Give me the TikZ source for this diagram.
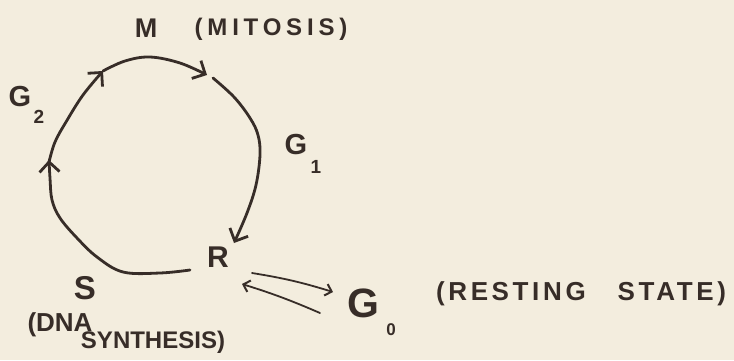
\documentclass[tikz,border=0pt]{standalone}
\usepackage{fontspec}
\setmainfont{Liberation Sans}
\newfontfamily\widefont[LetterSpace=20]{Liberation Sans}
\newfontfamily\midfont[LetterSpace=14]{Liberation Sans}
\usetikzlibrary{arrows.meta}
\definecolor{paper}{RGB}{243,237,222}
\definecolor{ink}{RGB}{55,45,40}
\tikzset{
  cyc/.style={draw=ink, line width=2.8pt, line cap=round, line join=round},
  tip/.style={-{Straight Barb[length=10pt,width=20pt,line width=2.8pt]}},
  thin/.style={draw=ink, line width=1.8pt, line cap=round,
    -{Straight Barb[length=6pt,width=12pt,line width=2pt]}},
  lbl/.style={inner sep=0pt, text=ink, anchor=center},
}
\begin{document}
\begin{tikzpicture}[x=1pt,y=-1pt]
\useasboundingbox (0,0) rectangle (734,360);
\fill[paper] (0,0) rectangle (734,360);

% cell cycle loop (clockwise): S -> G2 -> M -> G1 -> R
\draw[cyc,tip] plot[smooth,tension=0.6] coordinates
  {(190,270) (160,273) (123,272) (97,257) (77,238) (60,218) (52,200) (50,178) (49,160)};
\draw[cyc,tip] plot[smooth,tension=0.6] coordinates
  {(49,162) (55,142) (66,122) (83,95) (103,71)};
\draw[cyc,tip] plot[smooth,tension=0.6] coordinates
  {(103,71) (125,61) (150,57) (180,63) (207,75)};
\draw[cyc,tip] plot[smooth,tension=0.6] coordinates
  {(213,78) (234,97) (250,118) (258,135) (260,155) (256,185) (247,213) (234,243)};

% labels
\node[lbl, font=\bfseries\fontsize{27}{27}\selectfont] (M) at (146,28) {M};
\node[lbl, font=\widefont\bfseries\fontsize{24}{24}\selectfont] (mit) at (271,29) {(MITOSIS)};
\node[lbl, font=\bfseries\fontsize{29}{29}\selectfont] (G2) at (20,97) {G};
\node[lbl, font=\bfseries\fontsize{19}{19}\selectfont] (G2s) at (39,117) {2};
\node[lbl, font=\bfseries\fontsize{29}{29}\selectfont] (G1) at (296,145) {G};
\node[lbl, font=\bfseries\fontsize{19}{19}\selectfont] (G1s) at (316,167) {1};
\node[lbl, font=\bfseries\fontsize{33}{33}\selectfont] (S) at (85,288) {S};
\node[lbl, font=\bfseries\fontsize{26}{26}\selectfont] (dna) at (60,325) {(DNA};
\node[lbl, font=\bfseries\fontsize{24}{24}\selectfont] (syn) at (153,342) {SYNTHESIS)};
\node[lbl, font=\bfseries\fontsize{30}{30}\selectfont] (R) at (218,257) {R};
\node[lbl, font=\bfseries\fontsize{41}{41}\selectfont] (G0) at (363,303) {G};
\node[lbl, font=\bfseries\fontsize{17}{17}\selectfont] (G0s) at (391,330) {0};
\node[lbl, font=\midfont\bfseries\fontsize{26}{26}\selectfont] (rest) at (581,294) {(RESTING\hspace{32pt}STATE)};

% exchange with G0
\coordinate (Rout) at (252,273);
\coordinate (G0in) at (333,292);
\coordinate (G0out) at (320,313);
\coordinate (Rin) at (242,284);
\draw[thin] (Rout) to[bend left=4] (G0in);
\draw[thin] (G0out) to[bend right=3] (Rin);
\end{tikzpicture}
\end{document}
